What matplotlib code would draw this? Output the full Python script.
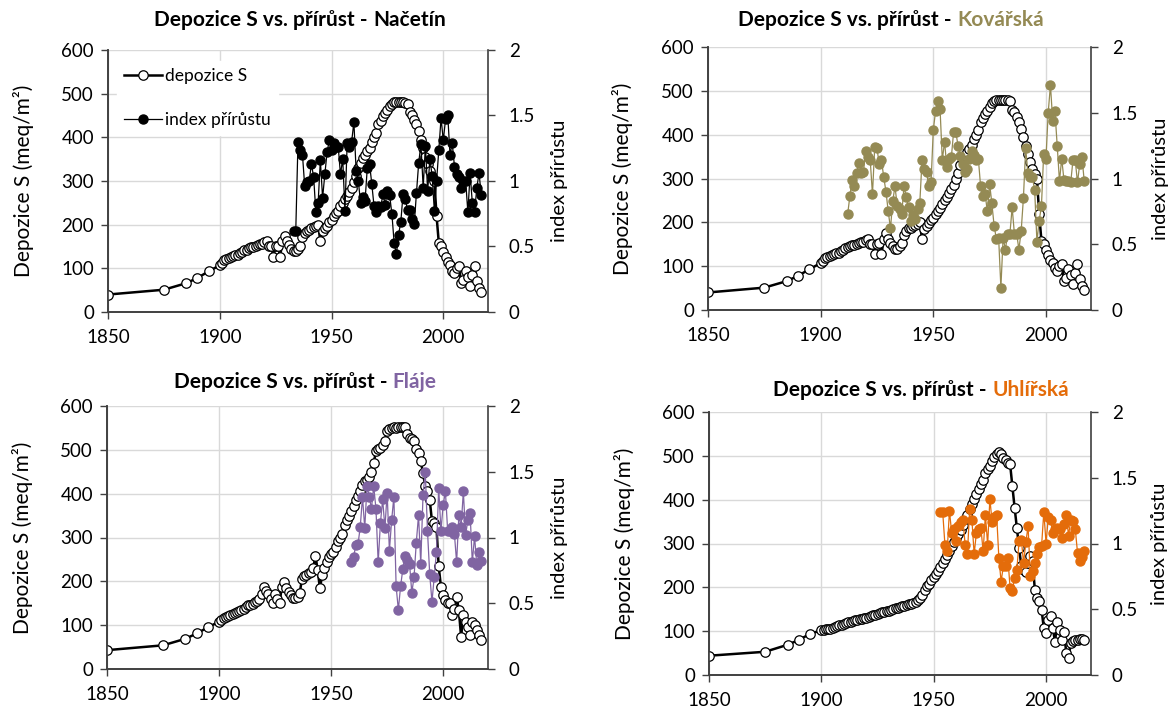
"""
Depozice S vs. přírůst - four sites, 2x2 panels with a secondary axis.
"""

import matplotlib

matplotlib.use("Agg")
import matplotlib.pyplot as plt
import numpy as np

plt.rcParams["font.family"] = ["Lato", "DejaVu Sans"]

# --- data -----------------------------------------------------------------

DEP_YEARS = [1850, 1875, 1885, 1890, 1895] + list(range(1900, 2018))

# Načetín and Kovářská share the same deposition curve
DEP_KRUSNE = [
    40, 51, 66, 78, 93,
    107, 112, 118, 121, 123, 125, 128, 130, 131, 134,
    138, 142, 143, 146, 148, 149, 151, 153, 155, 155,
    160, 162, 150, 150, 127, 150, 152, 127, 162, 175,
    162, 153, 145, 140, 140, 145, 152, 172, 180, 186,
    188, 192, 195, 197, 200, 162, 185, 192, 198, 205,
    210, 219, 226, 232, 242, 250, 258, 266, 275, 285,
    298, 312, 330, 342, 352, 360, 368, 376, 390, 400,
    410, 430, 438, 448, 455, 463, 472, 476, 480, 480,
    480, 480, 480, 478, 476, 457, 452, 440, 430, 414,
    395, 375, 355, 338, 322, 310, 300, 219, 158, 150,
    138, 125, 115, 108, 95, 89, 100, 106, 66, 74,
    93, 80, 59, 85, 105, 70, 55, 46,
]

DEP_FLAJE = [
    43, 54, 69, 81, 95,
    108, 112, 116, 118, 120, 123, 126, 128, 130, 132,
    135, 138, 142, 145, 147, 149, 152, 155, 160, 172,
    188, 178, 172, 160, 150, 172, 160, 150, 188, 199,
    184, 176, 168, 163, 161, 165, 174, 205, 212, 214,
    218, 222, 230, 258, 226, 184, 214, 230, 243, 256,
    262, 268, 279, 291, 298, 308, 329, 340, 348, 360,
    371, 386, 395, 405, 420, 428, 432, 438, 449, 470,
    497, 501, 505, 512, 520, 543, 548, 550, 553, 550,
    553, 553, 553, 553, 535, 527, 524, 520, 501, 493,
    474, 447, 417, 405, 386, 337, 333, 325, 234, 188,
    169, 157, 150, 150, 123, 138, 165, 134, 73, 123,
    108, 96, 77, 108, 100, 89, 77, 66,
]

DEP_UHLIRSKA = [
    44, 53, 69, 80, 94,
    102, 103, 104, 105, 106, 107, 109, 111, 113, 115,
    117, 119, 121, 122, 123, 125, 126, 127, 128, 130,
    131, 133, 135, 136, 138, 140, 141, 143, 144, 146,
    147, 149, 150, 152, 153, 155, 157, 158, 160, 161,
    163, 165, 167, 170, 176, 183, 193, 202, 208, 216,
    224, 231, 238, 247, 256, 265, 273, 282, 294, 303,
    313, 322, 330, 343, 355, 364, 379, 390, 402, 412,
    424, 435, 446, 460, 470, 477, 489, 498, 505, 508,
    504, 496, 490, 484, 481, 431, 382, 336, 290, 248,
    240, 235, 255, 271, 260, 195, 176, 168, 149, 107,
    95, 126, 134, 107, 76, 122, 103, 80, 99, 50,
    38, 73, 78, 80, 80, 81, 81, 80,
]

IDX_NACETIN_START = 1933
IDX_NACETIN = [
    0.62, 0.62, 1.30, 1.24, 1.20, 0.96, 0.99, 1.00, 1.13, 1.03,
    0.76, 0.83, 1.16, 0.87, 1.05, 1.22, 1.31, 1.24, 1.29, 1.26,
    1.26, 1.05, 1.17, 0.77, 1.29, 1.26, 1.30, 1.45, 1.08, 1.00,
    0.83, 0.88, 0.85, 1.10, 1.13, 0.98, 0.81, 0.76, 0.81, 0.80,
    0.90, 0.82, 0.92, 0.89, 0.75, 0.53, 0.44, 0.59, 0.69, 0.90,
    0.86, 0.78, 0.78, 0.71, 0.67, 0.91, 1.14, 1.28, 0.95, 1.27,
    0.92, 1.17, 1.04, 0.77, 1.00, 1.24, 1.48, 1.31, 1.47, 1.50,
    1.20, 1.29, 1.11, 1.05, 1.03, 0.95, 1.00, 1.00, 0.76, 1.06,
    0.83, 0.76, 0.95, 1.06, 0.89,
]

IDX_KOVARSKA_START = 1912
IDX_KOVARSKA = [
    0.73, 0.87, 0.99, 0.94, 1.04, 1.12, 1.04, 1.05, 1.21, 1.16,
    1.14, 0.88, 1.24, 1.23, 1.11, 1.14, 1.01, 0.90, 0.75, 0.62,
    0.83, 0.94, 0.79, 0.77, 0.73, 0.94, 0.86, 0.78, 0.68, 0.72,
    0.69, 0.77, 0.81, 1.14, 1.07, 1.05, 0.94, 0.97, 1.37, 1.51,
    1.59, 1.53, 1.14, 1.28, 1.09, 1.15, 1.16, 1.35, 1.35, 1.25,
    1.17, 1.11, 1.05, 1.07, 1.15, 1.21, 1.18, 1.14, 1.15, 0.94,
    0.87, 0.88, 0.75, 0.96, 0.81, 0.64, 0.54, 0.55, 0.17, 0.55,
    0.46, 0.58, 0.58, 0.78, 0.58, 0.58, 0.46, 0.60, 0.85, 1.23,
    1.04, 1.01, 1.01, 0.91, 0.52, 0.68, 0.79, 1.19, 1.15, 1.50,
    1.71, 1.44, 1.51, 1.25, 0.98, 1.15, 0.99, 0.98, 0.98, 0.97,
    1.14, 1.14, 0.97, 1.11, 1.16, 0.98,
]

IDX_FLAJE_START = 1959
IDX_FLAJE = [
    0.81, 0.85, 0.94, 0.95, 1.08, 1.31, 1.07, 1.39, 1.31, 1.22,
    1.39, 1.22, 0.81, 1.11, 1.29, 1.07, 1.34, 0.90, 1.13, 1.31,
    0.63, 0.45, 0.63, 0.76, 0.86, 0.83, 0.80, 0.58, 0.70, 0.96,
    1.17, 0.80, 1.32, 1.50, 1.05, 0.72, 0.51, 0.70, 0.89, 1.38,
    1.05, 1.25, 1.35, 1.05, 1.05, 1.08, 1.03, 0.81, 1.17, 1.08,
    1.35, 1.02, 1.13, 1.19, 0.81, 1.01, 0.79, 0.89, 0.82,
]

IDX_UHLIRSKA_START = 1953
IDX_UHLIRSKA = [
    1.24, 1.24, 0.99, 0.94, 1.25, 1.08, 1.11, 1.02, 1.13, 1.16,
    1.18, 0.99, 0.92, 1.26, 1.18, 0.92, 1.08, 1.11, 1.12, 0.94,
    1.22, 0.99, 1.34, 1.16, 1.20, 1.22, 0.89, 0.71, 0.83, 0.83,
    0.89, 0.66, 0.64, 0.74, 0.80, 1.02, 1.03, 0.85, 1.01, 1.13,
    0.75, 0.79, 0.85, 0.92, 0.97, 0.98, 1.24, 1.00, 1.20, 1.18,
    1.08, 1.11, 1.12, 1.11, 1.04, 1.15, 1.22, 1.06, 1.18, 1.17,
    1.11, 0.93, 0.87, 0.90, 0.94,
]

SITES = ["Načetín", "Kovářská", "Fláje", "Uhlířská"]
SITE_COLORS = ["#000000", "#948A54", "#8064A2", "#E46C0A"]

W, H = 1176, 715
GRID = "#D9D9D9"
SPINE = "#404040"


def px_rect(left, top, right, bottom):
    return [left / W, 1 - bottom / H, (right - left) / W, (bottom - top) / H]


def add_title(fig, renderer, cx, y, site, color):
    prefix = "Depozice S vs. přírůst - "
    kw = dict(fontsize=15, fontweight="bold", va="center", ha="left")
    full = fig.text(0, 0, prefix + site, **kw)
    w_full = full.get_window_extent(renderer).width
    full.remove()
    t2 = fig.text(0, 1 - y / H, site, color=color, **kw)
    w_site = t2.get_window_extent(renderer).width
    x0 = cx - w_full / 2
    fig.text(x0 / W, 1 - y / H, prefix, color="black", **kw)
    t2.set_x((x0 + w_full - w_site) / W)


def draw_panel(fig, rect, dep, idx_start, idx_vals, color, lab_left, lab_right, legend=False):
    ax = fig.add_axes(rect)
    ax2 = ax.twinx()

    ax.set_xlim(1850, 2020)
    ax.set_ylim(0, 600)
    ax2.set_ylim(0, 2)
    ax.set_xticks([1850, 1900, 1950, 2000])
    ax.set_yticks(range(0, 700, 100))
    ax2.set_yticks([0, 0.5, 1, 1.5, 2])
    ax2.set_yticklabels(["0", "0.5", "1", "1.5", "2"])

    ax.grid(True, color=GRID, linewidth=1.0)
    ax.set_axisbelow(True)

    for a in (ax, ax2):
        a.spines["top"].set_visible(False)
        for s in ("left", "right", "bottom"):
            a.spines[s].set_color(SPINE)
            a.spines[s].set_linewidth(1.2)
    ax.spines["right"].set_visible(False)

    ax.tick_params(axis="y", direction="out", length=5, width=1, color=SPINE, labelsize=13.5, pad=5)
    ax.tick_params(axis="x", direction="out", length=5, width=1, color=SPINE, labelsize=13.5, pad=7)
    ax2.tick_params(axis="y", direction="out", length=5, width=1, color=SPINE, labelsize=13.5, pad=10)

    l1, = ax.plot(
        DEP_YEARS, dep, color="black", linewidth=1.8, marker="o", markersize=6.8,
        markerfacecolor="white", markeredgecolor="black", markeredgewidth=0.9,
        label="depozice S", zorder=3,
    )
    idx_years = np.arange(idx_start, idx_start + len(idx_vals))
    l2, = ax2.plot(
        idx_years, idx_vals, color=color, linewidth=0.9, marker="o", markersize=6.5,
        markerfacecolor=color, markeredgecolor=color, label="index přírůstu",
    )

    ax.set_ylabel("Depozice S (meq/m²)", fontsize=15)
    ax.yaxis.set_label_coords(lab_left, 0.5)
    ax2.set_ylabel("index přírůstu", fontsize=14.5)
    ax2.yaxis.set_label_coords(lab_right, 0.5)

    if legend:
        leg = ax2.legend(
            handles=[l1, l2], loc="upper left", bbox_to_anchor=(0.0, 0.99),
            frameon=True, fontsize=12.5, handlelength=2.2, labelspacing=1.6,
            borderpad=0.4, handletextpad=0.2,
        )
        leg.get_frame().set_edgecolor("white")
        leg.get_frame().set_facecolor("white")
        leg.get_frame().set_alpha(1.0)
    return ax


def main() -> None:
    fig = plt.figure(figsize=(W / 100, H / 100), dpi=100)

    panels = [
        (px_rect(108, 50, 488, 312), DEP_KRUSNE, IDX_NACETIN_START, IDX_NACETIN, -0.195, 1.165, True, 300, 20),
        (px_rect(708, 47, 1091, 310), DEP_KRUSNE, IDX_KOVARSKA_START, IDX_KOVARSKA, -0.195, 1.158, False, 891, 20),
        (px_rect(107, 406, 488, 669), DEP_FLAJE, IDX_FLAJE_START, IDX_FLAJE, -0.195, 1.165, False, 305, 382),
        (px_rect(709, 412, 1091, 675), DEP_UHLIRSKA, IDX_UHLIRSKA_START, IDX_UHLIRSKA, -0.195, 1.158, False, 921, 390),
    ]

    for (rect, dep, start, vals, ll, lr, legend, _cx, _cy), color in zip(panels, SITE_COLORS):
        draw_panel(fig, rect, dep, start, vals, color, ll, lr, legend)

    renderer = fig.canvas.get_renderer()
    for (*_rest, cx, cy), site, color in zip(panels, SITES, SITE_COLORS):
        add_title(fig, renderer, cx, cy, site, color)

    fig.savefig("out.png", dpi=100)
    plt.close(fig)


if __name__ == "__main__":
    main()
